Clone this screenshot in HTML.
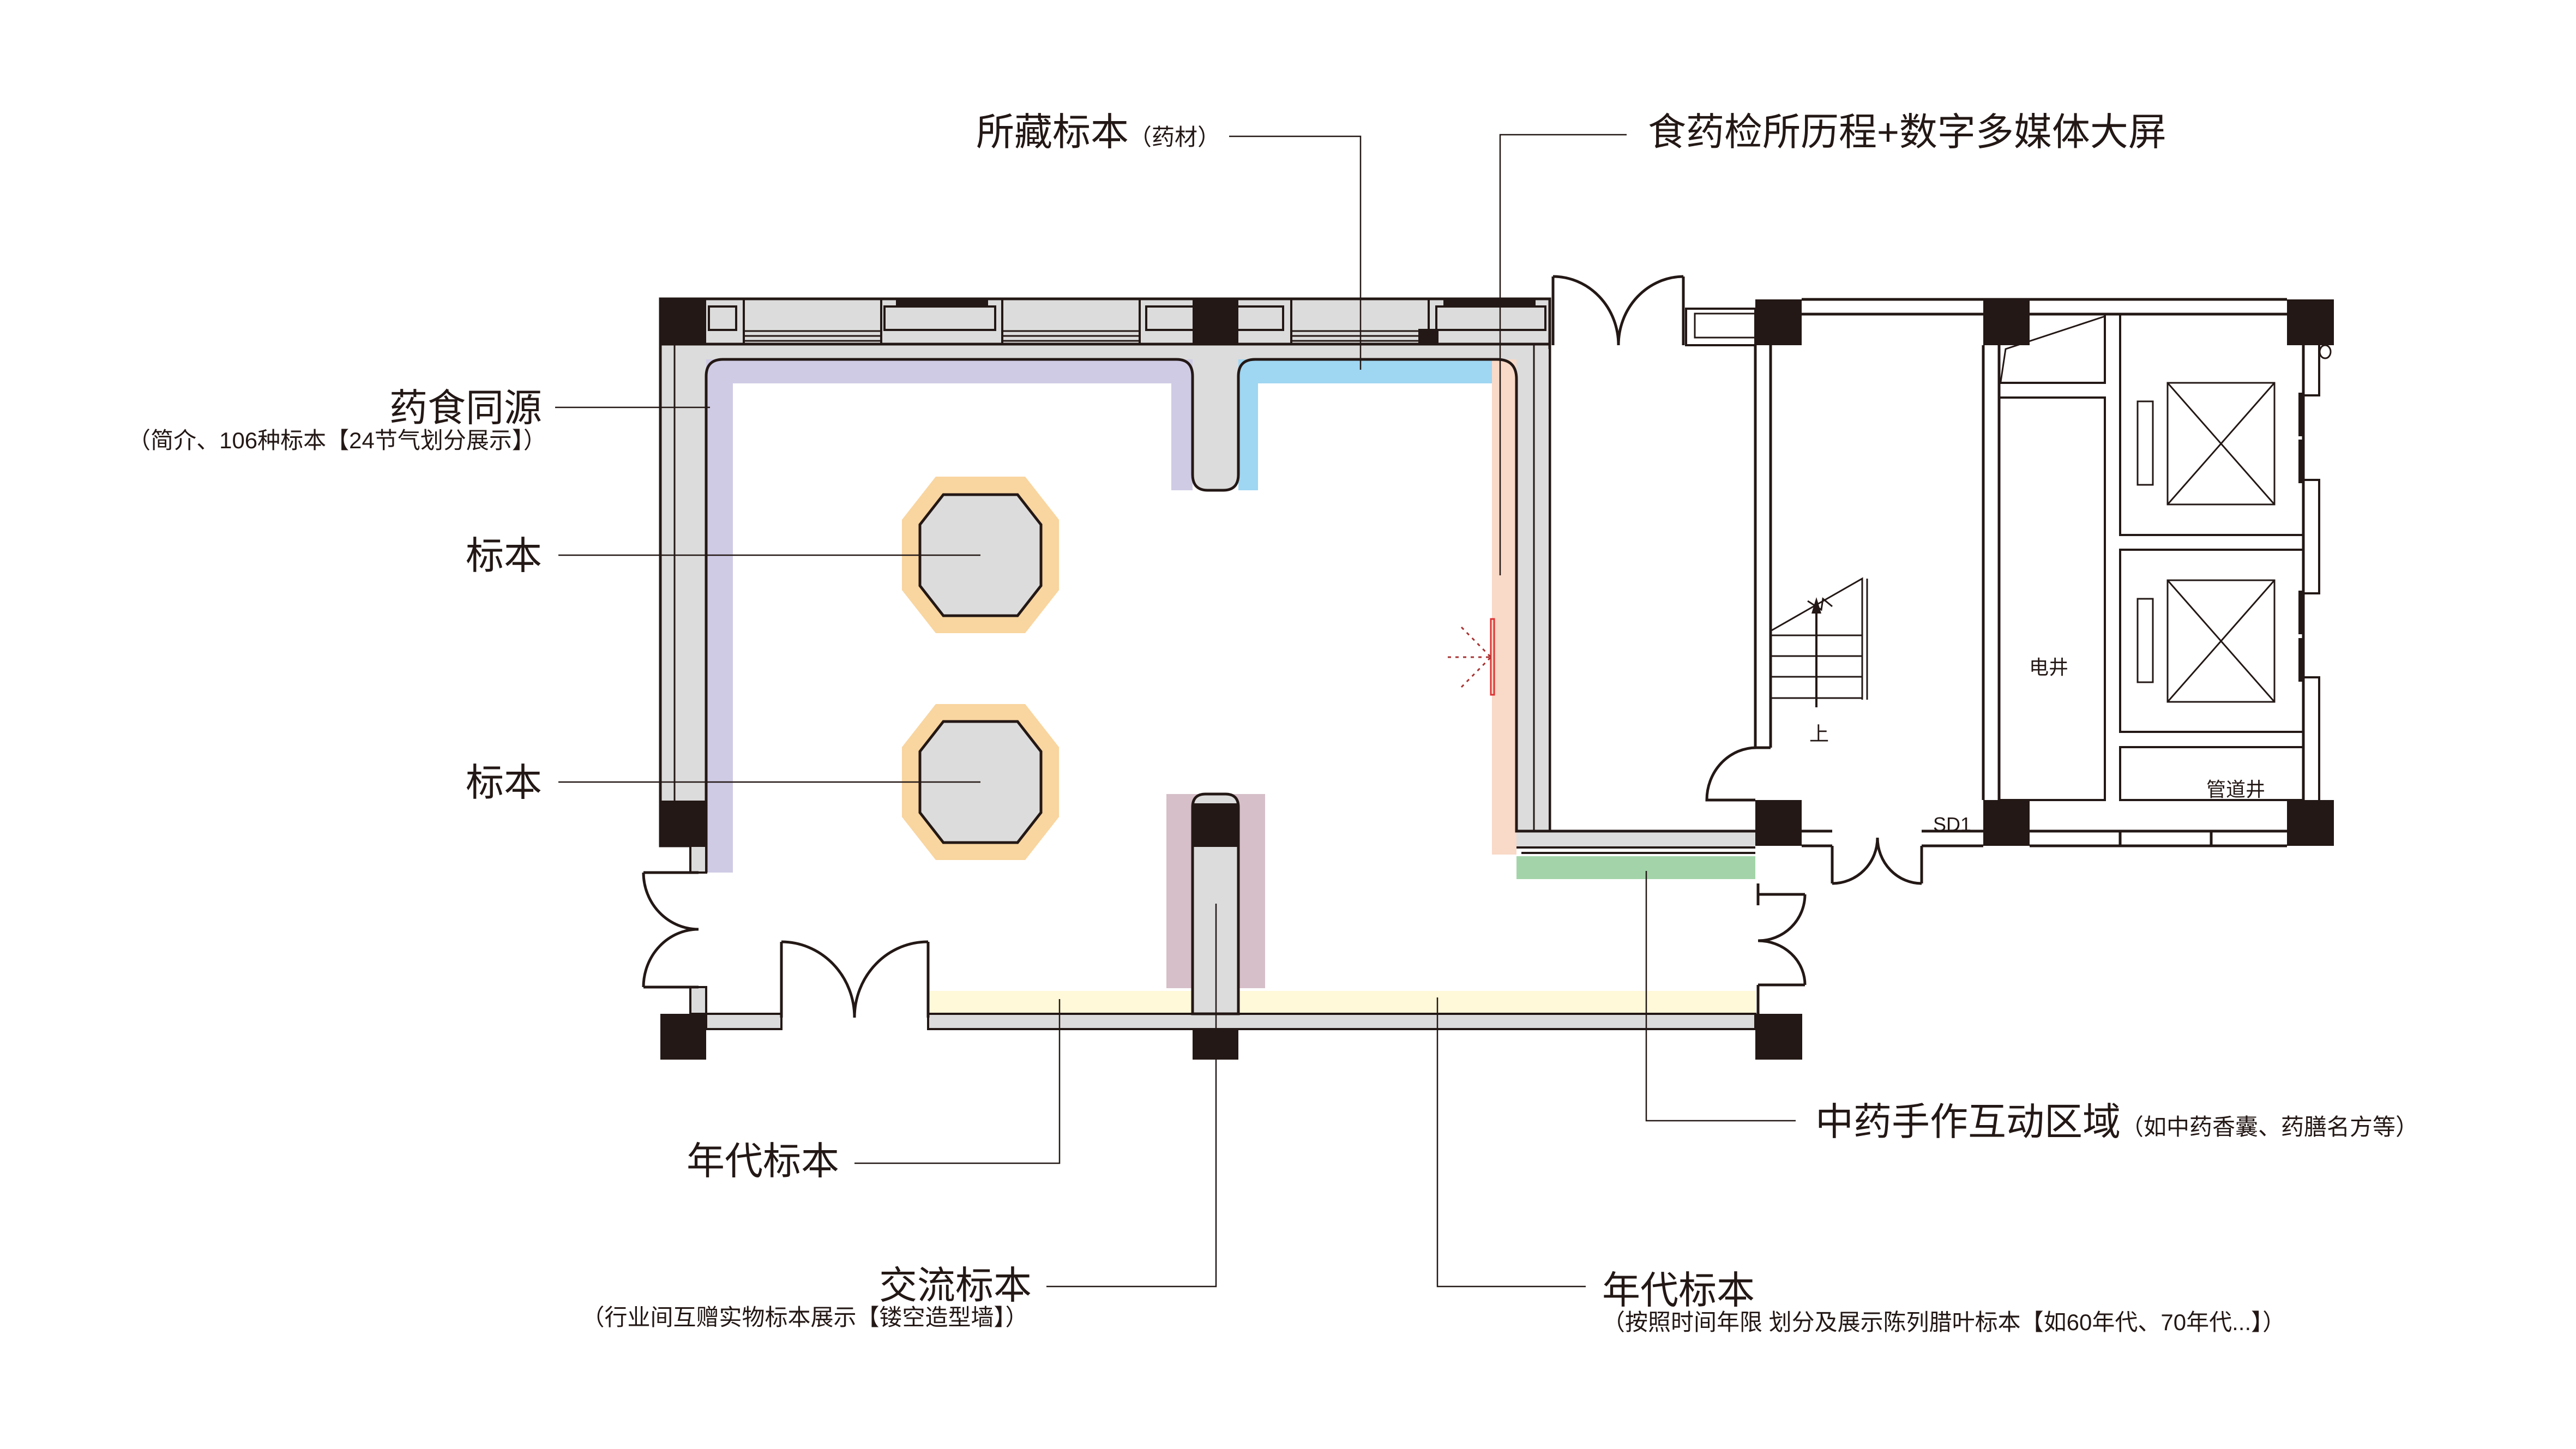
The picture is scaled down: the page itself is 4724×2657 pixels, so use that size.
<!DOCTYPE html>
<html><head><meta charset="utf-8"><style>
html,body{margin:0;padding:0;background:#fff;}
svg{display:block}
text{font-family:"Liberation Sans","Noto Sans CJK SC",sans-serif;fill:#231815}
</style></head><body>
<svg width="4724" height="2657" viewBox="0 0 4724 2657" xmlns="http://www.w3.org/2000/svg">
<rect width="4724" height="2657" fill="#fff"/>
<rect x="1211" y="548" width="1631" height="1003" fill="#dcdcdc" stroke="#231815" stroke-width="5"/>
<path d="M1295,1620 L1295,690 Q1295,659 1326,659 L2157,659 Q2187,659 2187,690 L2187,870 Q2187,899 2215,899 L2243,899 Q2271,899 2271,870 L2271,690 Q2271,659 2302,659 L2745,659 Q2781,659 2781,695 L2781,1620 Z" fill="#fff"/>
<rect x="1290" y="1548" width="1500" height="320" fill="#fff"/>
<rect x="2781" y="1524" width="438" height="30" fill="#dcdcdc"/>
<rect x="2781" y="640" width="61" height="914" fill="#dcdcdc"/>
<path d="M1295,659 L2187,659 L2187,899 L2148,899 L2148,703 L1344,703 L1344,1600 L1295,1600 Z" fill="#cfcbe5"/>
<path d="M2271,659 L2736,659 L2736,703 L2307,703 L2307,899 L2271,899 Z" fill="#9fd6f2"/>
<rect x="2736" y="659" width="45" height="908" fill="#f9d9c7"/>
<rect x="2781" y="1570" width="438" height="42" fill="#a3d4a9"/>
<rect x="1702" y="1817" width="1517" height="40" fill="#fff9d9"/>
<rect x="2139" y="1456" width="181" height="356" fill="#d6bfc8"/>
<path d="M1295,1600 L1295,690 Q1295,659 1326,659 L2157,659 Q2187,659 2187,690 L2187,870 Q2187,899 2215,899 L2243,899 Q2271,899 2271,870 L2271,690 Q2271,659 2302,659 L2745,659 Q2781,659 2781,695 L2781,1524 L3219,1524" fill="none" stroke="#231815" stroke-width="5"/>
<line x1="2781" y1="1554" x2="3219" y2="1554" stroke="#231815" stroke-width="4"/>
<line x1="2790" y1="1564" x2="3219" y2="1564" stroke="#231815" stroke-width="4"/>
<line x1="2813" y1="631" x2="2813" y2="1524" stroke="#231815" stroke-width="3"/>
<line x1="2842" y1="631" x2="2842" y2="1524" stroke="#231815" stroke-width="4"/>
<line x1="1237" y1="631" x2="1237" y2="1468" stroke="#231815" stroke-width="3"/>
<line x1="1211" y1="631" x2="2842" y2="631" stroke="#231815" stroke-width="5"/>
<g fill="none" stroke="#231815" stroke-width="4">
<rect x="1300" y="562" width="50" height="43"/>
<rect x="1622" y="562" width="203" height="43"/>
<rect x="2102" y="562" width="251" height="43"/>
<rect x="2634" y="562" width="200" height="43"/>
<line x1="1364" y1="548" x2="1364" y2="631"/><line x1="1616" y1="548" x2="1616" y2="631"/>
<line x1="1838" y1="548" x2="1838" y2="631"/><line x1="2090" y1="548" x2="2090" y2="631"/>
<line x1="2368" y1="548" x2="2368" y2="631"/><line x1="2620" y1="548" x2="2620" y2="631"/>
</g>
<g stroke="#231815" stroke-width="3">
<line x1="1364" y1="607" x2="1616" y2="607"/><line x1="1364" y1="616" x2="1616" y2="616"/><line x1="1364" y1="625" x2="1616" y2="625"/>
<line x1="1838" y1="607" x2="2090" y2="607"/><line x1="1838" y1="616" x2="2090" y2="616"/><line x1="1838" y1="625" x2="2090" y2="625"/>
<line x1="2368" y1="607" x2="2620" y2="607"/><line x1="2368" y1="616" x2="2620" y2="616"/><line x1="2368" y1="625" x2="2620" y2="625"/>
</g>
<rect x="1643" y="546" width="169" height="14" fill="#231815"/>
<rect x="2647" y="546" width="169" height="14" fill="#231815"/>
<rect x="2601" y="603" width="37" height="28" fill="#231815"/>
<g fill="#231815">
<rect x="1211" y="548" width="84" height="83"/>
<rect x="2187" y="548" width="84" height="83"/>
<rect x="1211" y="1468" width="84" height="83"/>
<rect x="1211" y="1859" width="84" height="84"/>
<rect x="2187" y="1859" width="84" height="84"/>
<rect x="3219" y="1859" width="86" height="84"/>
<rect x="3219" y="549" width="85" height="84"/>
<rect x="3637" y="549" width="85" height="84"/>
<rect x="4194" y="549" width="86" height="84"/>
<rect x="3219" y="1467" width="85" height="84"/>
<rect x="3637" y="1467" width="85" height="84"/>
<rect x="4194" y="1467" width="86" height="84"/>
</g>
<rect x="1266" y="1551" width="29" height="49" fill="#dcdcdc" stroke="#231815" stroke-width="4"/>
<rect x="1266" y="1810" width="29" height="49" fill="#dcdcdc" stroke="#231815" stroke-width="4"/>
<rect x="1295" y="1859" width="138" height="28" fill="#dcdcdc" stroke="#231815" stroke-width="4"/>
<rect x="1702" y="1859" width="1517" height="28" fill="#dcdcdc" stroke="#231815" stroke-width="4"/>
<path d="M2187,1859 L2187,1480 Q2187,1456 2211,1456 L2247,1456 Q2271,1456 2271,1480 L2271,1859 Z" fill="#dcdcdc" stroke="#231815" stroke-width="5"/>
<rect x="2187" y="1473" width="84" height="80" fill="#231815"/>
<g>
<polygon points="1716,874 1880,874 1942,953 1942,1082 1880,1161 1716,1161 1654,1082 1654,953" fill="#f9d59f"/>
<polygon points="1730,907 1866,907 1909,962 1909,1074 1866,1129 1730,1129 1687,1074 1687,962" fill="#dcdcdc" stroke="#231815" stroke-width="5"/>
<polygon points="1716,1291 1880,1291 1942,1370 1942,1498 1880,1577 1716,1577 1654,1498 1654,1370" fill="#f9d59f"/>
<polygon points="1730,1323 1866,1323 1909,1378 1909,1490 1866,1545 1730,1545 1687,1490 1687,1378" fill="#dcdcdc" stroke="#231815" stroke-width="5"/>
</g>
<rect x="2734" y="1135" width="6" height="139" fill="none" stroke="#d33" stroke-width="3"/>
<g stroke="#a33" stroke-width="3" stroke-dasharray="6,8" fill="none">
<line x1="2655" y1="1205" x2="2734" y2="1205"/><line x1="2680" y1="1150" x2="2734" y2="1205"/><line x1="2680" y1="1260" x2="2734" y2="1205"/>
</g>
<g fill="none" stroke="#231815" stroke-width="5">
<line x1="1433" y1="1727" x2="1433" y2="1866"/><line x1="1702" y1="1727" x2="1702" y2="1866"/>
<path d="M1433,1727 A134,139 0 0 1 1567,1866"/><path d="M1702,1727 A134,139 0 0 0 1567,1866"/>
<line x1="1180" y1="1600" x2="1281" y2="1600"/><line x1="1180" y1="1810" x2="1281" y2="1810"/>
<path d="M1180,1600 A101,104 0 0 0 1281,1704"/><path d="M1180,1810 A101,106 0 0 1 1281,1704"/>
<line x1="2848" y1="507" x2="2848" y2="633"/><line x1="3087" y1="507" x2="3087" y2="633"/>
<path d="M2848,507 A120,126 0 0 1 2968,633"/><path d="M3087,507 A120,126 0 0 0 2968,633"/>
<rect x="3092" y="566" width="127" height="67" stroke-width="4"/>
<rect x="3108" y="575" width="111" height="44" stroke-width="3"/>
<line x1="3304" y1="549" x2="4194" y2="549"/><line x1="3304" y1="576" x2="4194" y2="576"/>
<line x1="3304" y1="1524" x2="3360" y2="1524"/><line x1="3304" y1="1551" x2="3360" y2="1551"/>
<line x1="3524" y1="1524" x2="3637" y2="1524"/><line x1="3524" y1="1551" x2="3637" y2="1551"/>
<line x1="3722" y1="1524" x2="4194" y2="1524"/><line x1="3722" y1="1551" x2="4194" y2="1551"/>
<line x1="3219" y1="633" x2="3219" y2="1371"/><line x1="3247" y1="633" x2="3247" y2="1371"/>
<line x1="3219" y1="1371" x2="3247" y2="1371"/>
<path d="M3221,1371 A91,96 0 0 0 3130,1467 L3219,1467"/>
<line x1="3637" y1="633" x2="3637" y2="1467"/><line x1="3666" y1="633" x2="3666" y2="1467"/>
<rect x="3666" y="576" width="194" height="126" stroke-width="4"/>
<path d="M3669,700 L3678,640 L3860,580" stroke-width="3"/>
<rect x="3666" y="729" width="194" height="738" stroke-width="4"/>
<rect x="3888" y="576" width="336" height="405" stroke-width="4"/>
<rect x="3888" y="1008" width="336" height="334" stroke-width="4"/>
<rect x="3888" y="1370" width="336" height="97" stroke-width="4"/>
<line x1="3888" y1="1524" x2="3888" y2="1551"/><line x1="4055" y1="1524" x2="4055" y2="1551"/>
<line x1="4224" y1="633" x2="4224" y2="1467"/>
<path d="M4253,633 L4253,725 L4224,725 M4224,880 L4253,880 L4253,1088 L4224,1088 M4224,1242 L4253,1242 L4253,1467" stroke-width="4"/>
<line x1="3360" y1="1551" x2="3360" y2="1620"/><line x1="3524" y1="1551" x2="3524" y2="1620"/>
<path d="M3360,1620 A83,84 0 0 0 3443,1536"/><path d="M3524,1620 A81,84 0 0 1 3443,1536"/>
<line x1="3224" y1="1620" x2="3224" y2="1660"/>
<line x1="3224" y1="1640" x2="3310" y2="1640"/><path d="M3310,1640 A86,85 0 0 1 3224,1725"/>
<line x1="3224" y1="1806" x2="3310" y2="1806"/><path d="M3310,1806 A86,81 0 0 0 3224,1725"/>
<line x1="3224" y1="1806" x2="3224" y2="1859"/>
</g>
<ellipse cx="4264" cy="645" rx="10" ry="12" fill="none" stroke="#231815" stroke-width="3"/>
<g fill="#231815">
<rect x="4215" y="720" width="8" height="80"/><rect x="4215" y="806" width="8" height="80"/>
<rect x="4215" y="1083" width="8" height="80"/><rect x="4215" y="1170" width="8" height="80"/>
</g>
<g fill="none" stroke="#231815" stroke-width="3">
<rect x="3975" y="702" width="196" height="223"/><line x1="3975" y1="702" x2="4171" y2="925"/><line x1="4171" y1="702" x2="3975" y2="925"/>
<rect x="3975" y="1064" width="196" height="223"/><line x1="3975" y1="1064" x2="4171" y2="1287"/><line x1="4171" y1="1064" x2="3975" y2="1287"/>
<rect x="3920" y="736" width="28" height="153"/><rect x="3920" y="1098" width="28" height="153"/>
<path d="M3247,1157 L3415,1061 L3415,1283 M3247,1165 L3415,1165 M3247,1203 L3415,1203 M3247,1241 L3415,1241 M3247,1280 L3415,1280"/>
<line x1="3424" y1="1061" x2="3424" y2="1283"/>
</g>
<line x1="3331" y1="1297" x2="3331" y2="1120" stroke="#231815" stroke-width="4"/>
<polygon points="3331,1095 3322,1125 3340,1125" fill="#231815"/>
<path d="M3315,1102 L3340,1118 L3343,1098 L3360,1112" fill="none" stroke="#231815" stroke-width="3"/>
<text x="3757" y="1236" font-size="36" text-anchor="middle">电井</text>
<text x="3336" y="1358" font-size="36" text-anchor="middle">上</text>
<text x="4100" y="1460" font-size="36" text-anchor="middle">管道井</text>
<text x="3580" y="1524" font-size="36" text-anchor="middle">SD1</text>
<g fill="none" stroke="#231815" stroke-width="2.5">
<path d="M2254,250 L2495,250 L2495,678"/>
<path d="M2983,247 L2751,247 L2751,1055"/>
<path d="M1018,747 L1302,747"/>
<path d="M1024,1018 L1798,1018"/>
<path d="M1024,1434 L1798,1434"/>
<path d="M1567,2133 L1943,2133 L1943,1832"/>
<path d="M1919,2359 L2230,2359 L2230,1657"/>
<path d="M2908,2359 L2636,2359 L2636,1829"/>
<path d="M3293,2055 L3019,2055 L3019,1597"/>
</g>
<g font-size="70">
<text x="1790" y="266">所藏标本<tspan font-size="42">（药材）</tspan></text>
<text x="3022" y="266">食药检所历程+数字多媒体大屏</text>
<text x="994" y="772" text-anchor="end">药食同源</text>
<text x="618" y="822" font-size="42" text-anchor="middle">（简介、106种标本【24节气划分展示】）</text>
<text x="994" y="1043" text-anchor="end">标本</text>
<text x="994" y="1459" text-anchor="end">标本</text>
<text x="1259" y="2153">年代标本</text>
<text x="1612" y="2381">交流标本</text>
<text x="1476" y="2430" font-size="42" text-anchor="middle">（行业间互赠实物标本展示【镂空造型墙】）</text>
<text x="2938" y="2390">年代标本</text>
<text x="2938" y="2439" font-size="42">（按照时间年限 划分及展示陈列腊叶标本【如60年代、70年代...】）</text>
<text x="3329" y="2081">中药手作互动区域<tspan font-size="42">（如中药香囊、药膳名方等）</tspan></text>
</g>
</svg>
</body></html>
